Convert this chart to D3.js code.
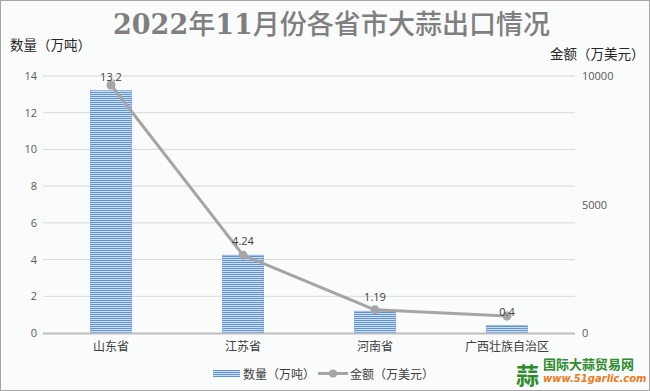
<!DOCTYPE html>
<html><head><meta charset="utf-8">
<script src="https://cdn.jsdelivr.net/npm/d3@7"></script>
<style>body{margin:0;background:#fff}svg{display:block}</style>
</head><body>
<svg id="c" width="650" height="391"></svg>
<script>
const categories = ["山东省","江苏省","河南省","广西壮族自治区"];
const quantity = [13.2, 4.24, 1.19, 0.4];
const amount = [9650, 3030, 900, 660];
const leftTicks = [0,2,4,6,8,10,12,14];
const rightTicks = [0,5000,10000];
const titleText = "2022年11月份各省市大蒜出口情况";

const svg = d3.select("#c");
const W = 650, H = 391;
const CJK = "'Noto Sans CJK SC','Noto Sans',sans-serif";
svg.append("rect").attr("x",0.5).attr("y",0.5).attr("width",W-1).attr("height",H-1)
  .attr("fill","#fafbfb").attr("stroke","#a6a6a6");

const defs = svg.append("defs");
const pat = defs.append("pattern").attr("id","stripe").attr("patternUnits","userSpaceOnUse")
  .attr("width",4).attr("height",2);
pat.append("rect").attr("width",4).attr("height",2).attr("fill","#cfe0f4");
pat.append("rect").attr("width",4).attr("height",1).attr("fill","#5f93d8");

const x0 = 45, x1 = 573, yTop = 76, yBot = 333;
const x = d3.scaleBand().domain(categories).range([x0,x1]);
const yL = d3.scaleLinear().domain([0,14]).range([yBot,yTop]);
const yR = d3.scaleLinear().domain([0,10000]).range([yBot,yTop]);

// title: digits in serif bold, CJK in sans medium
const t = svg.append("text").attr("x",113).attr("y",34).attr("font-size",27).attr("fill","#7f7f7f")
  .attr("textLength",437).attr("lengthAdjust","spacingAndGlyphs");
titleText.match(/[0-9]+|[^0-9]+/g).forEach(s=>{
  const isNum = /^[0-9]+$/.test(s);
  t.append("tspan").text(s)
    .attr("font-family", isNum ? "'DejaVu Serif','Liberation Serif',serif" : CJK)
    .attr("font-weight", isNum ? "bold" : 500);
});

svg.append("text").attr("x",10).attr("y",50).attr("font-family",CJK).attr("font-size",13.5)
  .attr("fill","#262626").text("数量（万吨）");
svg.append("text").attr("x",550).attr("y",59).attr("font-family",CJK).attr("font-size",13.5)
  .attr("fill","#262626").text("金额（万美元）");

// grid
svg.append("g").selectAll("line").data(leftTicks.filter(d=>d>0)).join("line")
  .attr("x1",43).attr("x2",575).attr("y1",d=>yL(d)).attr("y2",d=>yL(d))
  .attr("stroke","#d9d9d9").attr("stroke-width",1);

// left axis
const ga = svg.append("g").attr("transform",`translate(${x0},0)`)
  .call(d3.axisLeft(yL).tickValues(leftTicks).tickSize(0).tickPadding(8));
ga.select(".domain").remove();
ga.selectAll("text").attr("font-family","'Open Sans','Noto Sans',sans-serif").attr("font-size",11).attr("fill","#595959");

// right axis
const gr = svg.append("g").attr("transform",`translate(${x1},0)`)
  .call(d3.axisRight(yR).tickValues(rightTicks).tickSize(0).tickPadding(9).tickFormat(d3.format("d")));
gr.select(".domain").remove();
gr.selectAll("text").attr("font-family","'Open Sans','Noto Sans',sans-serif").attr("font-size",11).attr("fill","#595959");

// bars
const bw = 41;
svg.append("g").selectAll("rect").data(categories).join("rect")
  .attr("x",(d)=>x(d)+x.bandwidth()/2-bw/2).attr("width",bw)
  .attr("y",(d,i)=>yL(quantity[i])).attr("height",(d,i)=>yBot-yL(quantity[i]))
  .attr("fill","url(#stripe)").attr("stroke","#6a9ad8").attr("stroke-width",0.6);

// baseline
svg.append("line").attr("x1",43).attr("x2",575).attr("y1",yBot+0.5).attr("y2",yBot+0.5)
  .attr("stroke","#bfbfbf").attr("stroke-width",2);

// line
const line = d3.line().x((d,i)=>x(categories[i])+x.bandwidth()/2).y(d=>yR(d));
svg.append("path").datum(amount).attr("d",line).attr("fill","none")
  .attr("stroke","#a5a5a5").attr("stroke-width",3).attr("stroke-linejoin","round");
svg.append("g").selectAll("circle").data(amount).join("circle")
  .attr("cx",(d,i)=>x(categories[i])+x.bandwidth()/2).attr("cy",d=>yR(d)).attr("r",4.5)
  .attr("fill","#a5a5a5");

// bar labels
svg.append("g").selectAll("text").data(quantity).join("text")
  .attr("x",(d,i)=>x(categories[i])+x.bandwidth()/2).attr("y",d=>yL(d)-10)
  .attr("text-anchor","middle").attr("font-family","'Open Sans','Noto Sans',sans-serif")
  .attr("font-size",11).attr("fill","#404040").text(d=>d);

// category labels
svg.append("g").selectAll("text").data(categories).join("text")
  .attr("x",d=>x(d)+x.bandwidth()/2).attr("y",351).attr("text-anchor","middle")
  .attr("font-family",CJK).attr("font-size",12).attr("fill","#404040").text(d=>d);

// legend
const lg = svg.append("g");
lg.append("rect").attr("x",213).attr("y",370).attr("width",27).attr("height",7).attr("fill","url(#stripe)");
lg.append("text").attr("x",243).attr("y",379).attr("font-family",CJK).attr("font-size",12).attr("fill","#404040").text("数量（万吨）");
lg.append("line").attr("x1",318).attr("x2",348).attr("y1",373.5).attr("y2",373.5).attr("stroke","#a5a5a5").attr("stroke-width",3);
lg.append("circle").attr("cx",333).attr("cy",373.5).attr("r",4).attr("fill","#a5a5a5");
lg.append("text").attr("x",350).attr("y",379).attr("font-family",CJK).attr("font-size",12).attr("fill","#404040").text("金额（万美元）");

// logo
const logo = svg.append("g");
logo.append("text").attr("x",516).attr("y",384).attr("font-family",CJK).attr("font-weight","bold")
  .attr("font-size",23).attr("fill","#2e8b2e").text("蒜");
logo.append("text").attr("x",543).attr("y",369).attr("font-family",CJK).attr("font-weight","bold")
  .attr("font-size",13).attr("fill","#2e8b2e").text("国际大蒜贸易网");
logo.append("text").attr("x",543).attr("y",382).attr("font-family","'DejaVu Sans',sans-serif").attr("font-weight","bold")
  .attr("font-style","italic").attr("font-size",10).attr("fill","#f07a1a").text("www.51garlic.com");
</script>
</body></html>
